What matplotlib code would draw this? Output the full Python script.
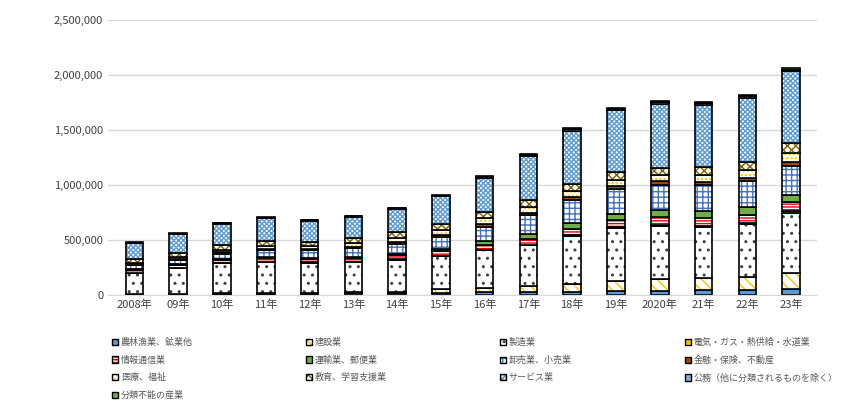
import matplotlib
matplotlib.use("Agg")
import matplotlib.pyplot as plt
from matplotlib.ticker import FuncFormatter
from matplotlib.patches import Patch
import numpy as np

plt.rcParams['font.family'] = ['Noto Sans CJK JP', 'DejaVu Sans']
plt.rcParams['hatch.linewidth'] = 1.0

years = ["2008年","09年","10年","11年","12年","13年","14年","15年","16年","17年","18年","19年","2020年","21年","22年","23年"]
names = ["農林漁業、鉱業他","建設業","製造業","電気・ガス・熱供給・水道業",
         "情報通信業","運輸業、郵便業","卸売業、小売業","金融・保険、不動産",
         "医療、福祉","教育、学習支援業","サービス業","公務（他に分類されるものを除く）",
         "分類不能の産業"]
agri = [5,5,8,10,12,15,17,20,25,27,30,35,38,40,45,55]
constr = [5,5,7,8,9,10,12,30,40,55,65,90,110,110,115,142]
manuf = [190,230,270,280,270,270,290,300,340,370,440,480,480,470,480,551]
elec = [2,2,3,3,3,3,4,4,5,5,6,8,8,8,9,10]
info = [20,25,25,30,30,35,35,40,45,50,55,65,70,70,75,86]
transp = [10,10,10,12,12,13,15,20,35,45,55,60,65,65,70,66]
whole = [35,40,50,60,70,80,90,110,130,170,210,225,230,235,240,261]
fin = [10,10,12,12,12,12,14,16,20,22,25,28,30,30,32,36]
medic = [15,20,25,25,25,30,35,45,55,55,55,55,55,60,70,85]
educ = [30,35,40,45,40,45,55,60,60,65,70,70,70,70,75,88]
serv = [150,170,195,210,190,195,215,250,310,400,480,560,580,570,580,651]
public = [3,4,4,5,5,5,5,6,8,10,12,12,12,12,12,15]
unclass = [5,5,5,5,5,5,5,6,8,10,10,12,12,15,15,15]
series = [agri,constr,manuf,elec,info,transp,whole,fin,medic,educ,serv,public,unclass]

styles = [
    dict(fc="#5B9BD5", hatch=None, hc=None),
    dict(fc="white", hatch="\\\\\\", hc="#FFC000"),
    dict(fc="white", hatch="..", hc="#404040"),
    dict(fc="#FFC000", hatch=None, hc=None),
    dict(fc="white", hatch="------", hc="#E00000"),
    dict(fc="#70AD47", hatch=None, hc=None),
    dict(fc="white", hatch="+++", hc="#4472C4"),
    dict(fc="#9E480E", hatch=None, hc=None),
    dict(fc="white", hatch="....", hc="#FFC000"),
    dict(fc="white", hatch="xxxx", hc="#806000"),
    dict(fc="white", hatch="xxxxxxx", hc="#5B9BD5"),
    dict(fc="#8FAADC", hatch=None, hc=None),
    dict(fc="#70AD47", hatch=None, hc=None),
]

fig = plt.figure(figsize=(8.65,4.2), dpi=100)
ax = fig.add_axes([0.125, 0.298, 0.82, 0.655])
x = np.arange(len(years))
bottom = np.zeros(len(years))
handles = []
for name, vals, st in zip(names, series, styles):
    v = np.array(vals)*1000
    ec = st["hc"] if st["hc"] else "black"
    ax.bar(x, v, 0.4, bottom=bottom, color=st["fc"], hatch=st["hatch"], edgecolor=ec, linewidth=0)
    ax.bar(x, v, 0.4, bottom=bottom, fill=False, edgecolor="black", linewidth=1.2)
    h1 = Patch(facecolor=st["fc"], hatch=st["hatch"], edgecolor=ec, linewidth=0)
    h2 = Patch(fill=False, edgecolor="black", linewidth=1.0)
    handles.append((h1, h2))
    bottom += v

ax.set_ylim(0, 2500000)
ax.set_xlim(-0.6, len(years)-0.4)
ax.set_xticks(x)
ax.set_xticklabels(years, fontsize=8, color="#404040")
ax.yaxis.set_major_formatter(FuncFormatter(lambda v,p: f"{int(v):,}"))
ax.tick_params(axis="y", labelsize=8, colors="#404040", length=0)
ax.tick_params(axis="x", length=0)
ax.grid(axis="y", color="#D9D9D9", linewidth=1)
ax.set_axisbelow(True)
for s in ["top","right","left"]:
    ax.spines[s].set_visible(False)
ax.spines["bottom"].set_color("#D9D9D9")

# reorder for row-wise filling with 4 columns
ncol = 4
nrows = int(np.ceil(len(names)/ncol))
order = []
for c in range(ncol):
    for r in range(nrows):
        i = r*ncol + c
        if i < len(names):
            order.append(i)
fig.legend(handles=[handles[i] for i in order], labels=[names[i] for i in order],
           loc="upper left", bbox_to_anchor=(0.12, 0.215),
           ncol=ncol, fontsize=6.5, frameon=False, handlelength=0.7, handleheight=0.7,
           columnspacing=12.5, labelspacing=0.95, handletextpad=0.3, labelcolor="#595959")
fig.savefig("out.png", dpi=100)
